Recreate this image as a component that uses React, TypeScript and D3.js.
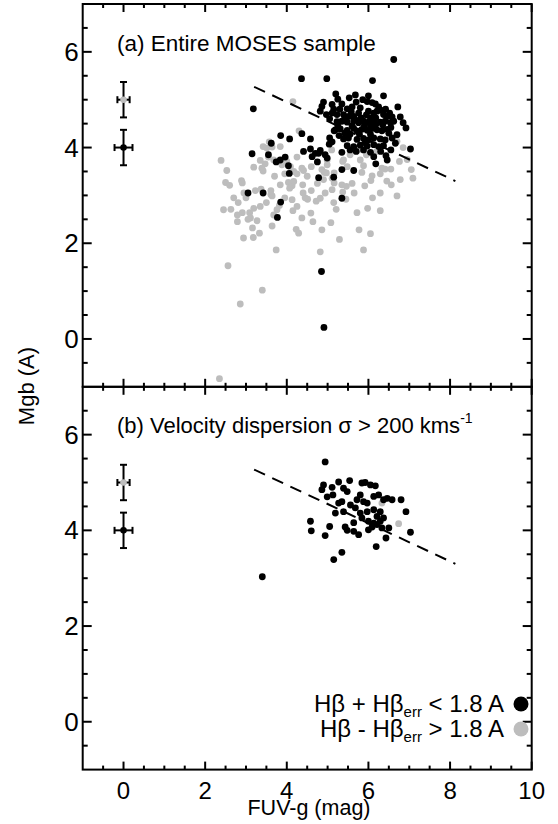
import React from 'react';
import * as d3 from 'd3';

// ---------- data ----------
const xTickValues = [0, 2, 4, 6, 8, 10];
const yTickValues = [0, 2, 4, 6];
const xDomain: [number, number] = [-1, 10];
const yDomain: [number, number] = [-1, 7];

// panel (a): Hβ + Hβerr < 1.8 A (black)
const topBlack: [number, number][] = [
  [4.36,5.44],[4.98,5.44],[6.10,5.40],[6.62,5.84],[3.18,4.81],[6.37,5.08],[5.53,5.04],[5.25,5.01],[4.90,4.95],[4.86,4.86],
  [5.11,4.90],[5.35,4.91],[5.48,4.81],[5.86,5.00],[5.97,4.96],[6.09,4.94],[6.17,4.91],[5.80,4.83],[5.76,4.72],[4.97,4.69],
  [5.11,4.72],[5.23,4.69],[5.39,4.69],[5.51,4.65],[5.64,4.65],[6.00,4.76],[6.13,4.72],[6.21,4.76],[6.37,4.69],[6.46,4.65],
  [6.58,4.64],[6.78,4.64],
  [5.23,4.54],[5.35,4.55],[5.48,4.53],[5.64,4.56],[5.76,4.52],[5.88,4.55],[6.00,4.53],[6.13,4.56],[6.29,4.53],[6.41,4.55],[6.54,4.52],
  [5.19,4.37],[5.31,4.39],[5.48,4.36],[5.64,4.40],[5.72,4.35],[5.84,4.38],[5.97,4.36],[6.09,4.40],[6.21,4.37],[6.33,4.35],[6.46,4.38],
  [6.92,4.41],
  [5.39,4.18],[5.51,4.20],[5.72,4.17],[5.88,4.19],[6.00,4.16],[6.13,4.20],[6.29,4.18],[6.41,4.16],[6.58,4.20],
  [5.48,4.04],[5.64,4.02],[5.80,4.05],[5.97,4.03],[6.13,4.06],[6.25,4.02],[6.37,4.04],
  [6.70,4.27],[6.66,4.09],[7.03,3.97],[3.85,4.25],[4.07,4.18],[3.62,4.09],[4.58,4.18],[4.37,4.29],[5.04,4.07],[5.11,4.12],
  [3.15,3.87],[3.55,3.85],[3.84,3.74],[3.96,3.80],[3.74,3.70],[4.41,3.92],[4.58,3.97],[4.70,3.88],[4.82,3.94],[4.94,3.85],
  [4.62,3.81],[4.78,3.88],[4.75,3.70],[5.35,3.90],[6.13,3.81],[6.18,3.66],[6.43,3.83],[6.46,3.74],[4.06,3.46],[4.78,3.37],
  [5.15,3.38],[5.35,3.54],[5.64,3.52],[3.05,3.05],[3.42,3.05],[3.85,2.86],[5.35,2.94],[3.77,2.54],[5.16,4.35],[4.85,1.41],
  [4.91,0.24],[4.82,4.76],[4.99,3.78],[4.04,3.62],[5.60,4.85],[5.90,4.45],[6.05,4.28],[5.55,4.28],[5.30,4.80],[6.25,4.85],
  [5.70,4.95],[6.50,4.30],
  [5.05,4.60],[5.15,4.80],[5.42,4.62],[5.58,4.75],[5.68,4.58],[5.82,4.62],[5.95,4.68],[6.05,4.62],[6.18,4.62],[6.30,4.78],
  [6.42,4.80],[6.52,4.72],[5.28,4.25],[5.42,4.30],[5.60,4.45],[5.78,4.28],[5.92,4.10],[6.05,4.45],[6.18,4.48],[6.35,4.47],
  [6.55,4.42],[6.62,4.55],[5.55,3.95],[5.70,3.92],[5.88,3.95],[6.05,3.90],[6.30,3.92],[6.55,3.95],[5.25,4.45],[5.05,4.20],
  [6.85,4.52],[6.72,4.85],[5.68,5.10],[6.00,5.08],[5.20,5.12]
];

// panel (a): Hβ - Hβerr > 1.8 A (grey)
const topGrey: [number, number][] = [
  [2.39,3.73],[2.53,3.52],[2.50,3.27],[2.60,3.21],[2.89,3.31],[2.91,3.26],[2.81,2.85],[2.63,2.71],[2.79,2.59],[2.91,2.64],
  [3.09,2.64],[3.11,2.53],[3.19,2.73],[3.35,2.77],[3.27,2.47],[3.05,2.50],[2.79,2.45],[3.16,2.32],[3.33,2.21],[3.18,2.12],
  [2.94,2.11],[3.23,3.10],[3.37,3.13],[3.61,3.10],[3.64,2.99],[3.39,3.57],[3.42,3.51],[3.35,3.73],[3.55,3.80],[3.47,3.66],
  [3.42,4.02],[3.51,3.99],[3.64,4.01],[3.84,4.02],[3.19,3.59],[3.68,3.74],[3.88,3.64],[4.00,3.71],[4.09,3.60],[4.25,3.80],
  [3.84,3.22],[4.04,3.27],[4.13,3.20],[4.17,3.29],[4.07,3.15],[3.82,2.79],[3.76,2.70],[3.68,2.59],[4.13,2.91],[4.15,2.68],
  [4.25,2.77],[3.64,2.36],[4.23,2.29],[4.29,2.21],[3.74,1.86],[3.61,3.02],[4.39,3.22],[4.50,3.40],[4.41,3.52],[4.37,3.57],
  [4.17,3.50],[4.37,2.53],[4.59,2.63],[4.64,2.45],[4.51,2.92],[4.72,2.88],[4.82,2.94],[4.94,3.05],[5.11,3.12],[5.16,3.26],
  [4.90,3.33],[4.97,3.47],[5.11,3.36],[4.86,2.28],[5.08,2.43],[5.21,2.71],[5.15,2.85],[5.45,2.92],[5.35,3.22],[5.46,3.19],
  [5.37,3.07],[5.29,2.08],[5.72,2.64],[5.98,2.73],[6.29,2.68],[5.77,2.28],[6.05,2.20],[5.88,1.86],[4.82,1.82],[5.91,3.20],
  [6.06,3.31],[6.09,3.41],[6.29,3.45],[6.41,3.55],[6.56,3.22],[6.78,3.33],[6.70,2.99],[7.05,3.54],[7.09,3.36],[6.76,3.71],
  [5.84,3.48],[5.37,3.71],[4.99,3.64],[4.92,3.48],[5.16,3.47],[2.56,1.53],[3.40,1.02],[2.86,0.73],[2.35,-0.83],[4.15,4.96],
  [4.30,4.35],[3.57,4.12],[6.70,4.13],[6.29,3.05],[5.80,3.74],[5.88,3.62],[6.33,3.57],[5.39,3.74],[5.48,3.60],[4.99,3.74],
  [4.86,3.54],
  [5.55,3.85],[5.75,3.95],[6.20,3.92],[6.55,3.55],[6.95,3.75],[6.85,4.00],[5.10,3.95],[4.60,3.60],[4.75,3.25],[4.45,2.95],
  [3.95,2.95],[3.50,2.85],[2.70,2.95],[3.00,2.95],[4.40,3.05],[4.60,3.10],[5.60,3.25],[5.65,3.05],[6.45,3.30],[6.10,2.95],
  [2.45,2.70],[2.95,3.05],[3.70,3.40],[3.95,3.45],[4.25,3.45],[5.95,3.85]
];

// panel (b): σ > 200 km/s
const bottomBlack: [number, number][] = [
  [4.90,4.95],[4.86,4.85],[5.11,4.90],[5.27,5.01],[5.54,5.04],[5.39,4.88],[5.48,4.81],[5.84,4.99],[5.92,5.00],[6.05,4.95],
  [6.17,4.93],[4.99,4.70],[5.13,4.74],[5.27,4.57],[5.35,4.60],[5.56,4.53],[5.72,4.64],[5.80,4.74],[5.88,4.60],[5.97,4.57],
  [6.13,4.71],[6.25,4.74],[6.37,4.64],[6.46,4.67],[6.58,4.64],[6.80,4.64],[5.19,4.36],[5.39,4.39],[5.68,4.47],[5.80,4.36],
  [5.97,4.39],[6.13,4.43],[6.29,4.39],[6.21,4.29],[6.92,4.39],[5.64,4.16],[5.84,4.26],[6.00,4.19],[6.13,4.15],[6.29,4.19],
  [6.37,4.26],[4.58,4.19],[4.60,3.99],[5.05,4.08],[4.94,3.89],[5.43,4.07],[5.48,4.00],[5.64,3.98],[5.76,3.91],[6.00,4.01],
  [6.09,4.07],[6.21,4.12],[6.33,4.05],[6.50,4.05],[7.03,3.96],[6.43,3.84],[6.19,3.66],[5.35,3.54],[5.15,3.39],[3.40,3.03],
  [4.94,5.43]
];
const bottomGrey: [number, number][] = [[6.33,4.57],[6.74,4.14]];

// representative error bars at x = 0
const errX = [0, 0];
const errY = [5, 4];
const errDx = [0.15, 0.22];
const errDy = [0.37, 0.37];
const errGroup = ['grey', 'black'];

// dashed relation
const fitX = [3.2, 8.13];
const fitY = [5.27, 3.3];

const GREY = '#bdbdbd';
const FONT = '"Liberation Sans", Arial, Helvetica, sans-serif';

const X0 = 82.7, X1 = 531.7;
const panelsPx = [
  { top: 4, bottom: 386.8 },
  { top: 386.8, bottom: 769.6 },
];

const x = d3.scaleLinear().domain(xDomain).range([X0, X1]);

function minorTicks(dom: [number, number], majors: number[]) {
  const out: number[] = [];
  for (let v = dom[0]; v <= dom[1] + 1e-9; v += 0.5) {
    const r = Math.round(v * 2) / 2;
    if (r <= dom[0] || r >= dom[1]) continue;
    if (majors.includes(r)) continue;
    out.push(r);
  }
  return out;
}

function Panel({ idx, black, grey, showXLabels }: { idx: number; black: [number, number][]; grey: [number, number][]; showXLabels: boolean }) {
  const p = panelsPx[idx];
  const y = d3.scaleLinear().domain(yDomain).range([p.bottom, p.top]);
  const xMin = minorTicks(xDomain, xTickValues);
  const yMin = minorTicks(yDomain, yTickValues);
  const line = d3.line<number>().x((_, i) => x(fitX[i])).y((_, i) => y(fitY[i]));
  return (
    <g>
      {grey.map((d, i) => (
        <circle key={'g' + i} cx={x(d[0])} cy={y(d[1])} r={3.4} fill={GREY} />
      ))}
      {black.map((d, i) => (
        <circle key={'b' + i} cx={x(d[0])} cy={y(d[1])} r={3.4} fill="#000" />
      ))}
      <path d={line([0, 1]) || ''} fill="none" stroke="#000" strokeWidth={2} strokeDasharray="12,8" />
      {errX.map((ex, i) => {
        const cx = x(ex), cy = y(errY[i]);
        const x1 = x(ex - errDx[i]), x2 = x(ex + errDx[i]);
        const y1 = y(errY[i] + errDy[i]), y2 = y(errY[i] - errDy[i]);
        return (
          <g key={'e' + i} stroke="#000" strokeWidth={2}>
            <line x1={cx} x2={cx} y1={y1} y2={y2} />
            <line x1={cx - 3.5} x2={cx + 3.5} y1={y1} y2={y1} />
            <line x1={cx - 3.5} x2={cx + 3.5} y1={y2} y2={y2} />
            <line x1={x1} x2={x2} y1={cy} y2={cy} />
            <line x1={x1} x2={x1} y1={cy - 3.5} y2={cy + 3.5} />
            <line x1={x2} x2={x2} y1={cy - 3.5} y2={cy + 3.5} />
            <circle cx={cx} cy={cy} r={3.3} fill={errGroup[i] === 'grey' ? GREY : '#000'} stroke="none" />
          </g>
        );
      })}
      <rect x={X0} y={p.top} width={X1 - X0} height={p.bottom - p.top} fill="none" stroke="#000" strokeWidth={2} />
      <g stroke="#000" strokeWidth={2}>
        {xTickValues.map((v) => (
          <g key={'xm' + v}>
            <line x1={x(v)} x2={x(v)} y1={p.bottom} y2={p.bottom - 8} />
            <line x1={x(v)} x2={x(v)} y1={p.top} y2={p.top + 8} />
          </g>
        ))}
        {xMin.map((v) => (
          <g key={'xn' + v}>
            <line x1={x(v)} x2={x(v)} y1={p.bottom} y2={p.bottom - 4} />
            <line x1={x(v)} x2={x(v)} y1={p.top} y2={p.top + 4} />
          </g>
        ))}
        {yTickValues.map((v) => (
          <g key={'ym' + v}>
            <line x1={X0} x2={X0 + 9} y1={y(v)} y2={y(v)} />
            <line x1={X1} x2={X1 - 9} y1={y(v)} y2={y(v)} />
          </g>
        ))}
        {yMin.map((v) => (
          <g key={'yn' + v}>
            <line x1={X0} x2={X0 + 5} y1={y(v)} y2={y(v)} />
            <line x1={X1} x2={X1 - 5} y1={y(v)} y2={y(v)} />
          </g>
        ))}
      </g>
      {yTickValues.map((v) => (
        <text key={'yl' + v} x={X0 - 4} y={y(v) + 9} textAnchor="end" fontFamily={FONT} fontSize={26} fill="#000">
          {v}
        </text>
      ))}
      {showXLabels &&
        xTickValues.map((v) => (
          <text key={'xl' + v} x={x(v)} y={p.bottom + 29} textAnchor="middle" fontFamily={FONT} fontSize={24} fill="#000">
            {v}
          </text>
        ))}
    </g>
  );
}

export default function App() {
  return (
    <div style={{ position: 'fixed', left: 0, top: 0, width: 558, height: 824, background: '#fff' }}>
      <svg width={558} height={824} viewBox="0 0 558 824" style={{ display: 'block' }}>
        <rect x={0} y={0} width={558} height={824} fill="#fff" />
        <Panel idx={0} black={topBlack} grey={topGrey} showXLabels={false} />
        <Panel idx={1} black={bottomBlack} grey={bottomGrey} showXLabels={true} />
        <text x={117} y={51} fontFamily={FONT} fontSize={22.5} fill="#000">(a) Entire MOSES sample</text>
        <text x={117} y={433} fontFamily={FONT} fontSize={22} fill="#000">
          (b) Velocity dispersion σ &gt; 200 kms<tspan fontSize={14} dy={-10}>-1</tspan>
        </text>
        <text x={309} y={815} textAnchor="middle" fontFamily={FONT} fontSize={21.5} fill="#000">FUV-g (mag)</text>
        <text transform="translate(34,386) rotate(-90)" textAnchor="middle" fontFamily={FONT} fontSize={22} fill="#000">Mgb (A)</text>
        <text x={504} y={712} textAnchor="end" fontFamily={FONT} fontSize={24} fill="#000">
          Hβ + Hβ<tspan fontSize={15} dy={5}>err</tspan><tspan dy={-5}> &lt; 1.8 A</tspan>
        </text>
        <circle cx={521} cy={704} r={7.5} fill="#000" />
        <text x={504} y={737} textAnchor="end" fontFamily={FONT} fontSize={24} fill="#000">
          Hβ - Hβ<tspan fontSize={15} dy={5}>err</tspan><tspan dy={-5}> &gt; 1.8 A</tspan>
        </text>
        <circle cx={521} cy={729} r={7.5} fill={GREY} />
      </svg>
    </div>
  );
}
